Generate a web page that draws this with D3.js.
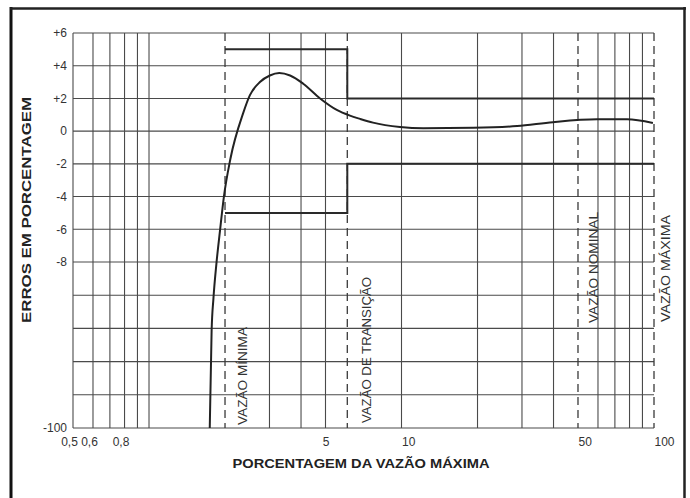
<!DOCTYPE html>
<html><head><meta charset="utf-8">
<script src="https://cdn.jsdelivr.net/npm/d3@7"></script>
<style>body{margin:0;background:#fff}svg{display:block}text{font-family:"Liberation Sans",Arial,Helvetica,sans-serif}</style>
</head><body><svg id="c" width="690" height="498"></svg>
<script>
// ---- data ----
const xGrid = [0.6, 0.7, 0.8, 0.9, 1, 3, 4, 5, 10, 20, 30, 40, 60, 70, 80, 90];
const xDashed = [2, 6.1, 50, 100];
const xTickValues = [0.5, 0.6, 0.8, 5, 10, 50, 100];
const xTickLabels = ["0,5", "0,6", "0,8", "5", "10", "50", "100"];
const yGrid = [6, 4, 2, 0, -2, -4, -6, -8, -26.4, -44.8, -63.2, -81.6, -100];
const yTickValues = [6, 4, 2, 0, -2, -4, -6, -8, -100];
const yTickLabels = ["+6", "+4", "+2", "0", "-2", "-4", "-6", "-8", "-100"];
const curveX = [1.74, 1.77, 1.80, 1.85, 1.91, 1.98, 2.10, 2.36, 2.51, 2.75, 3.01, 3.28, 3.62, 4.08, 4.76, 5.54, 6.25, 6.85, 7.71, 9.86, 12.2, 19.2, 28.7, 39.8, 59.5, 78.2, 99];
const curveY = [-100, -46, -28, -8.6, -6.1, -4, -1.7, 1.1, 2.2, 3.0, 3.4, 3.55, 3.4, 2.9, 2.0, 1.3, 0.95, 0.75, 0.52, 0.25, 0.17, 0.2, 0.31, 0.55, 0.72, 0.72, 0.5];
const envX = [2, 6.1, 6.1, 100];
const envUpper = [5, 5, 2, 2];
const envLower = [-5, -5, -2, -2];
const markerValues = [2, 6.1, 50, 100];
const markerLabels = ["VAZÃO MÍNIMA", "VAZÃO DE TRANSIÇÃO", "VAZÃO NOMINAL", "VAZÃO MÁXIMA"];
const yTitle = "ERROS EM PORCENTAGEM";
const xTitle = "PORCENTAGEM DA VAZÃO MÁXIMA";

// ---- layout ----
const L = 73, R = 654, T = 33, B = 428;
const svg = d3.select("#c");
const x = d3.scaleLog().domain([0.5, 100]).range([L, R]);
const y = d3.scaleLinear().domain([-100, -8, 6]).range([B, 262, T]);

const gridCol = "#4a4a4a";
// frame
svg.append("line").attr("x1", 11).attr("x2", 11).attr("y1", 7).attr("y2", 500).attr("stroke", "#111").attr("stroke-width", 3);
svg.append("line").attr("x1", 10).attr("x2", 686).attr("y1", 8.5).attr("y2", 8.5).attr("stroke", "#222").attr("stroke-width", 2.5);
svg.append("line").attr("x1", 684.5).attr("x2", 684.5).attr("y1", 7).attr("y2", 500).attr("stroke", "#222").attr("stroke-width", 2.5);

// horizontal grid
svg.append("g").selectAll("line").data(yGrid).join("line")
  .attr("x1", L).attr("x2", R).attr("y1", d => y(d)).attr("y2", d => y(d))
  .attr("stroke", gridCol).attr("stroke-width", 1.1);
// left border
svg.append("line").attr("x1", x(0.5)).attr("x2", x(0.5)).attr("y1", T).attr("y2", B).attr("stroke", gridCol).attr("stroke-width", 1.1);
// vertical grid
svg.append("g").selectAll("line").data(xGrid).join("line")
  .attr("x1", d => x(d)).attr("x2", d => x(d)).attr("y1", T).attr("y2", B)
  .attr("stroke", gridCol).attr("stroke-width", 1.1);
// dashed markers
svg.append("g").selectAll("line").data(xDashed).join("line")
  .attr("x1", d => x(d)).attr("x2", d => x(d)).attr("y1", T).attr("y2", B)
  .attr("stroke", "#3a3a3a").attr("stroke-width", 1.3).attr("stroke-dasharray", "8,5");

// envelope
const envLine = d3.line().x(d => x(d[0])).y(d => y(d[1]));
svg.append("path").attr("d", envLine(envX.map((v, i) => [v, envUpper[i]])))
  .attr("fill", "none").attr("stroke", "#2a2a2a").attr("stroke-width", 2);
svg.append("path").attr("d", envLine(envX.map((v, i) => [v, envLower[i]])))
  .attr("fill", "none").attr("stroke", "#2a2a2a").attr("stroke-width", 2);

// error curve
const curveLine = d3.line().x(d => x(d[0])).y(d => y(d[1])).curve(d3.curveMonotoneX);
svg.append("path").attr("d", curveLine(curveX.map((v, i) => [v, curveY[i]])))
  .attr("fill", "none").attr("stroke", "#222").attr("stroke-width", 2);

// axes (labels only)
const yAxis = svg.append("g").attr("transform", `translate(${L},0)`)
  .call(d3.axisLeft(y).tickValues(yTickValues).tickFormat((d, i) => yTickLabels[i]).tickSize(0).tickPadding(6));
yAxis.select(".domain").remove();
yAxis.selectAll("text").attr("font-size", 12).attr("fill", "#333").attr("font-family", '"Liberation Sans",Arial,sans-serif');

const xAxis = svg.append("g").attr("transform", `translate(0,${B})`)
  .call(d3.axisBottom(x).tickValues(xTickValues).tickFormat((d, i) => xTickLabels[i]).tickSize(0).tickPadding(9));
xAxis.select(".domain").remove();
xAxis.selectAll("text").attr("font-size", 12).attr("fill", "#333").attr("font-family", '"Liberation Sans",Arial,sans-serif')
  .attr("text-anchor", d => d >= 10 ? "start" : "middle")
  .attr("dx", d => d < 1 ? -4 : 0);

// marker labels
const labelDx = [18, 19, 16, 12];
const labelBottom = [425, 423, 323, 322];
const labelLen = [98, 146, 111, 107];
svg.append("g").selectAll("text").data(markerLabels).join("text")
  .attr("transform", (d, i) => `translate(${x(markerValues[i]) + labelDx[i]},${labelBottom[i]}) rotate(-90)`)
  .attr("dy", "0.36em").attr("font-size", 12).attr("fill", "#333")
  .attr("textLength", (d, i) => labelLen[i]).attr("lengthAdjust", "spacingAndGlyphs")
  .text(d => d);

// titles
svg.append("text").attr("transform", "translate(26,210) rotate(-90)")
  .attr("text-anchor", "middle").attr("dy", "0.36em")
  .attr("font-size", 13).attr("font-weight", "bold").attr("fill", "#222")
  .attr("textLength", 226).attr("lengthAdjust", "spacingAndGlyphs").text(yTitle);
svg.append("text").attr("x", 361).attr("y", 463)
  .attr("text-anchor", "middle").attr("dy", "0.36em")
  .attr("font-size", 13).attr("font-weight", "bold").attr("fill", "#222")
  .attr("textLength", 257).attr("lengthAdjust", "spacingAndGlyphs").text(xTitle);
</script></body></html>
